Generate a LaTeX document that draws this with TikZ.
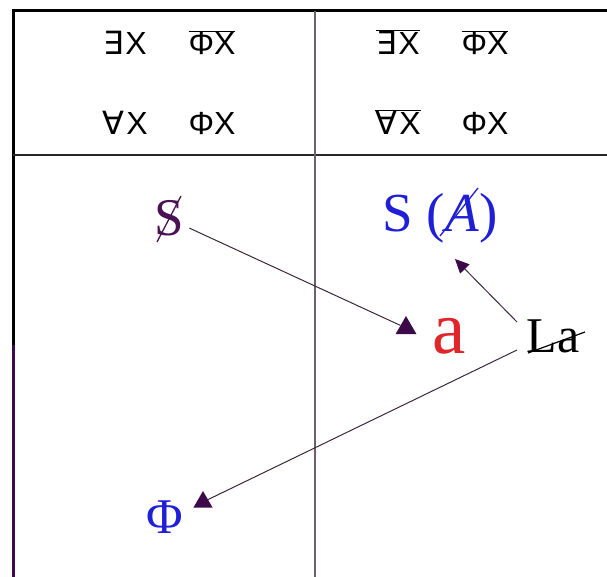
\documentclass[tikz,border=0pt]{standalone}
\usepackage{fontspec}
\setmainfont{Liberation Serif}
\newfontfamily\hsans{Liberation Sans}
\newfontfamily\hdeja{DejaVu Sans}
\usetikzlibrary{shapes.geometric,arrows.meta}
\definecolor{sdpurple}{HTML}{4A1252}
\definecolor{sblue}{HTML}{1F1FD8}
\definecolor{sred}{HTML}{E0262A}
\definecolor{linep}{HTML}{3A283A}
\definecolor{trip}{HTML}{3C0A48}
\definecolor{midl}{HTML}{6E5E6E}
\definecolor{borderp}{HTML}{3A0A4A}
\newcommand\ovl[1]{$\overline{\hbox{#1}}$}
\newcommand\EX{{\hdeja ∃}\kern2pt{\hsans X}}
\newcommand\AX{{\hdeja ∀}\kern2pt{\hsans X}}
\newcommand\PX{{\hsans ΦX}}
\begin{document}
\begin{tikzpicture}[x=1pt,y=-1pt,
  hdr/.style={inner sep=0pt,anchor=base,font=\fontsize{32}{38}\selectfont},
  big/.style={inner sep=0pt,anchor=base},
  tri/.style={regular polygon,regular polygon sides=3,fill=trip,inner sep=0pt,minimum size=24pt},
  conn/.style={draw=linep,line width=1pt}]
\useasboundingbox (0,0) rectangle (607,577);
% table frame
\draw[line width=3pt,black] (607,11) -- (13,11) -- (13,345);
\draw[line width=3pt,borderp] (13,345) -- (13,578);
\draw[line width=1.5pt,black!85] (13,155) -- (607,155);
\draw[line width=1.5pt,midl] (315,11) -- (315,578);
% header
\node[hdr] (h11) at (125,55) {\EX};
\node[hdr] (h12) at (212,55) {\ovl{\PX}};
\node[hdr] (h21) at (125,135) {\AX};
\node[hdr] (h22) at (212,135) {\PX};
\node[hdr] (h13) at (398,55) {\ovl{\EX}};
\node[hdr] (h14) at (485,55) {\ovl{\PX}};
\node[hdr] (h23) at (398,135) {\ovl{\AX}};
\node[hdr] (h24) at (485,135) {\PX};
% body texts
\node[big,text=sdpurple,font=\fontsize{53}{60}\selectfont] (sd) at (169,236) {S};
\draw[sdpurple,line width=1.3pt] (157,242) -- (181,196);
\node[big,text=sblue,font=\fontsize{55}{64}\selectfont] (sa) at (440,232) {S (\textit{A})};
\draw[sblue,line width=1.3pt] (440,236) -- (478,188);
\node[big,text=sred,font=\fontsize{75}{86}\selectfont] (a) at (449,353) {a};
\node[big,text=black,font=\fontsize{50}{58}\selectfont] (la) at (553,352) {La};
\draw[black,line width=1.2pt] (528,353) -- (585,332);
\node[big,text=sblue,font=\fontsize{50}{58}\selectfont] (phi) at (165,533) {Φ};
% arrow heads
\node[tri] (t1) at (406,328) {};
\node[tri,minimum size=22pt] (t2) at (203,502) {};
\coordinate (la1) at (517,322);
\coordinate (la2) at (517,350);
\coordinate (p3) at (455,259);
% connectors
\draw[conn,shorten <=6pt] (sd) -- (t1);
\draw[conn] (la2) -- (t2);
\draw[conn,-{Triangle[length=14pt,width=13pt,color=trip]}] (la1) -- (p3);
\end{tikzpicture}
\end{document}
